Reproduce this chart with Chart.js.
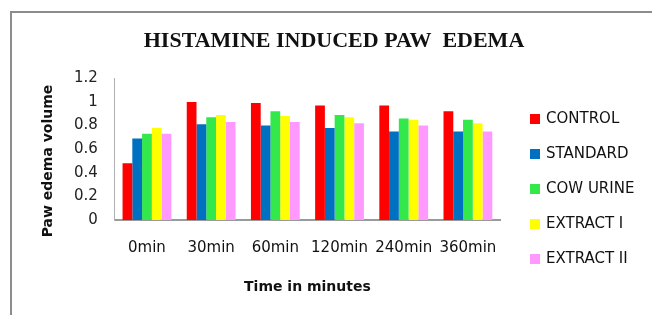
<!DOCTYPE html>
<html>
<head>
<meta charset="utf-8">
<script src="https://cdn.jsdelivr.net/npm/chart.js@4/dist/chart.umd.min.js"></script>
<style>
  body { margin: 0; background: #fff; }
  #wrap { position: relative; width: 652px; height: 315px; overflow: hidden; }
  #frame { position: absolute; left: 10px; top: 11px; width: 700px; height: 400px; border: 2px solid #8c8c8c; }
  canvas { position: absolute; left: 0; top: 0; }
</style>
</head>
<body>
<div id="wrap">
  <div id="frame"></div>
  <canvas id="chart" width="652" height="315"></canvas>
</div>
<script>
// ---- Data ----
const categories = ['0min', '30min', '60min', '120min', '240min', '360min'];
const seriesNames = ['CONTROL', 'STANDARD', 'COW URINE', 'EXTRACT I', 'EXTRACT II'];
const seriesColors = ['#ff0000', '#0070c0', '#33e84a', '#ffff00', '#ff99ff'];
const control = [0.48, 1.00, 0.99, 0.97, 0.97, 0.92];
const standard = [0.69, 0.81, 0.80, 0.78, 0.75, 0.75];
const cowUrine = [0.73, 0.87, 0.92, 0.89, 0.86, 0.85];
const extract1 = [0.78, 0.89, 0.88, 0.87, 0.85, 0.82];
const extract2 = [0.73, 0.83, 0.83, 0.82, 0.80, 0.75];
const yTicks = [0, 0.2, 0.4, 0.6, 0.8, 1, 1.2];
const chartTitle = 'HISTAMINE INDUCED PAW  EDEMA';
const yTitle = 'Paw edema volume';

const seriesValues = [control, standard, cowUrine, extract1, extract2];
const FONT = 'DejaVu Sans';

// title, y title and legend drawn by hand so they sit where the picture has them
const decorations = {
  id: 'decorations',
  afterDraw(chart) {
    const ctx = chart.ctx;
    ctx.save();
    ctx.fillStyle = '#111';
    ctx.font = 'bold 22px "Liberation Serif"';
    ctx.textAlign = 'center';
    ctx.textBaseline = 'middle';
    ctx.fillText(chartTitle, 334, 41);

    ctx.save();
    ctx.translate(48, 161);
    ctx.rotate(-Math.PI / 2);
    ctx.font = 'bold 14px "' + FONT + '"';
    ctx.fillText(yTitle, 0, 0);
    ctx.restore();

    ctx.font = '15px "' + FONT + '"';
    ctx.textAlign = 'left';
    chart.data.datasets.forEach((ds, i) => {
      const y = 119 + i * 35;
      ctx.fillStyle = ds.backgroundColor;
      ctx.fillRect(530, y - 5, 10, 10);
      ctx.fillStyle = '#111';
      ctx.fillText(ds.label, 546, y);
    });
    ctx.restore();
  }
};

new Chart(document.getElementById('chart'), {
  type: 'bar',
  data: {
    labels: categories,
    datasets: seriesNames.map((name, i) => ({
      label: name,
      data: seriesValues[i],
      backgroundColor: seriesColors[i],
      borderWidth: 0,
      categoryPercentage: 0.76,
      barPercentage: 1
    }))
  },
  options: {
    responsive: false,
    animation: false,
    layout: { padding: { left: 57, right: 152, top: 78.3, bottom: 19.6 } },
    plugins: {
      legend: { display: false },
      tooltip: { enabled: false },
      title: { display: false }
    },
    scales: {
      x: {
        grid: { display: false, drawTicks: false },
        border: { display: true, color: '#9a9a9a', width: 2 },
        ticks: { color: '#111', font: { family: FONT, size: 15 }, padding: 19, maxRotation: 0, autoSkip: false },
        title: {
          display: true,
          text: 'Time in minutes',
          color: '#111',
          font: { family: FONT, size: 14, weight: 'bold' },
          padding: { top: 2.6, bottom: 0 }
        }
      },
      y: {
        min: 0,
        max: 1.2,
        afterBuildTicks: (axis) => { axis.ticks = yTicks.map(v => ({ value: v })); },
        grid: { display: false, drawTicks: false },
        border: { display: true, color: '#b0b0b0', width: 1 },
        ticks: {
          color: '#222',
          font: { family: FONT, size: 15 },
          padding: 17,
          autoSkip: false,
          callback: (v) => String(+v.toFixed(1))
        },
        title: { display: false }
      }
    }
  },
  plugins: [decorations]
});
</script>
</body>
</html>
